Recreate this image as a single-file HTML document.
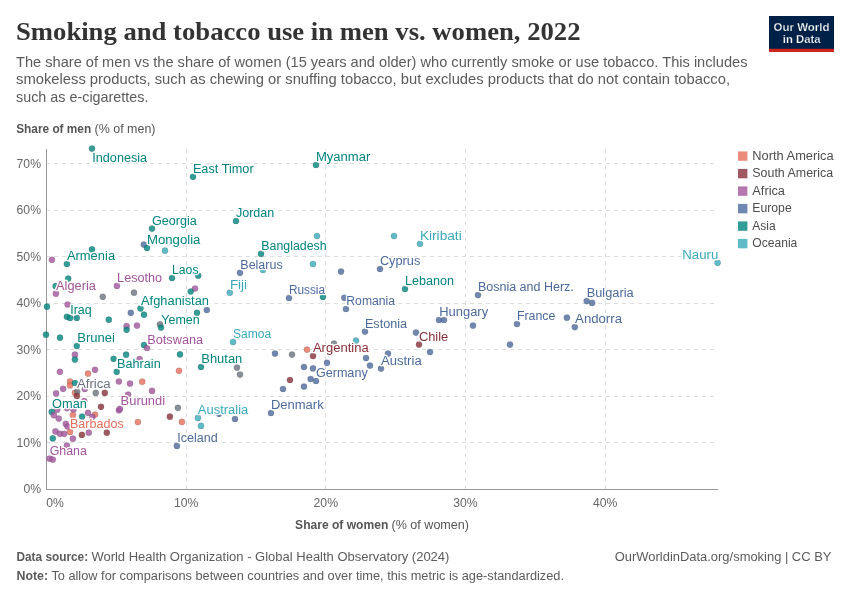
<!DOCTYPE html>
<html><head><meta charset="utf-8">
<style>
html,body{margin:0;padding:0;background:#fff;width:850px;height:600px;overflow:hidden}
svg{display:block;font-family:"Liberation Sans",sans-serif;will-change:transform}
</style></head>
<body>
<svg width="850" height="600" viewBox="0 0 850 600">
<rect width="850" height="600" fill="#fff"/>
<text x="16" y="40.2" font-family="Liberation Serif" font-size="26" font-weight="bold" fill="#333" textLength="564.5" lengthAdjust="spacingAndGlyphs">Smoking and tobacco use in men vs. women, 2022</text>
<g font-size="15" fill="#5b5b5b">
<text x="16" y="66.5" textLength="731.5" lengthAdjust="spacingAndGlyphs">The share of men vs the share of women (15 years and older) who currently smoke or use tobacco. This includes</text>
<text x="16" y="84.3" textLength="714" lengthAdjust="spacingAndGlyphs">smokeless products, such as chewing or snuffing tobacco, but excludes products that do not contain tobacco,</text>
<text x="16" y="102.3" textLength="132.5" lengthAdjust="spacingAndGlyphs">such as e-cigarettes.</text>
</g>
<g font-size="12.5" fill="#555">
<text x="16.2" y="133.3" font-weight="bold" textLength="75" lengthAdjust="spacingAndGlyphs">Share of men</text>
<text x="94.5" y="133.3" textLength="61" lengthAdjust="spacingAndGlyphs">(% of men)</text>
<text x="295.1" y="528.8" font-weight="bold" textLength="93.2" lengthAdjust="spacingAndGlyphs">Share of women</text>
<text x="391.5" y="528.8" textLength="77.5" lengthAdjust="spacingAndGlyphs">(% of women)</text>
</g>
<g font-size="12.5" fill="#5b5b5b">
<text x="16.5" y="560.7" font-weight="bold" textLength="71.6" lengthAdjust="spacingAndGlyphs">Data source:</text>
<text x="91.4" y="560.7" textLength="358" lengthAdjust="spacingAndGlyphs">World Health Organization - Global Health Observatory (2024)</text>
<text x="16.5" y="580" font-weight="bold" textLength="31.6" lengthAdjust="spacingAndGlyphs">Note:</text>
<text x="51.4" y="580" textLength="512.6" lengthAdjust="spacingAndGlyphs">To allow for comparisons between countries and over time, this metric is age-standardized.</text>
<text x="614.8" y="560.7" textLength="216.6" lengthAdjust="spacingAndGlyphs">OurWorldinData.org/smoking | CC BY</text>
</g>
<rect x="769" y="16" width="65" height="36" fill="#002147"/>
<rect x="769" y="48.8" width="65" height="3.2" fill="#CE261E"/>
<g font-size="11.5" font-weight="bold" fill="#fff" stroke="#002147" stroke-width="0.25">
<text x="773.5" y="30.5" textLength="56" lengthAdjust="spacingAndGlyphs">Our World</text>
<text x="782.8" y="42.5" textLength="37.8" lengthAdjust="spacingAndGlyphs">in Data</text>
</g>
<g stroke="#dddddd" stroke-width="1" stroke-dasharray="4,4"><line x1="46" y1="442.5" x2="715" y2="442.5"/><line x1="46" y1="396.5" x2="715" y2="396.5"/><line x1="46" y1="349.5" x2="715" y2="349.5"/><line x1="46" y1="303.5" x2="715" y2="303.5"/><line x1="46" y1="256.5" x2="715" y2="256.5"/><line x1="46" y1="210.5" x2="715" y2="210.5"/><line x1="46" y1="163.5" x2="715" y2="163.5"/><line x1="186.5" y1="149" x2="186.5" y2="489"/><line x1="325.5" y1="149" x2="325.5" y2="489"/><line x1="465.5" y1="149" x2="465.5" y2="489"/><line x1="605.5" y1="149" x2="605.5" y2="489"/></g>
<line x1="46.5" y1="149" x2="46.5" y2="490" stroke="#999" stroke-width="1"/>
<line x1="46" y1="489.5" x2="718" y2="489.5" stroke="#999" stroke-width="1"/>
<g font-size="12" fill="#666"><text x="23.4" y="493.3" textLength="17.6" lengthAdjust="spacingAndGlyphs">0%</text><text x="16.6" y="446.8" textLength="24.4" lengthAdjust="spacingAndGlyphs">10%</text><text x="16.6" y="400.3" textLength="24.4" lengthAdjust="spacingAndGlyphs">20%</text><text x="16.6" y="353.7" textLength="24.4" lengthAdjust="spacingAndGlyphs">30%</text><text x="16.6" y="307.2" textLength="24.4" lengthAdjust="spacingAndGlyphs">40%</text><text x="16.6" y="260.7" textLength="24.4" lengthAdjust="spacingAndGlyphs">50%</text><text x="16.6" y="214.2" textLength="24.4" lengthAdjust="spacingAndGlyphs">60%</text><text x="16.6" y="167.7" textLength="24.4" lengthAdjust="spacingAndGlyphs">70%</text></g>
<g font-size="12" fill="#666"><text x="46.3" y="506.9" textLength="17.6" lengthAdjust="spacingAndGlyphs">0%</text><text x="174.0" y="506.9" textLength="24.4" lengthAdjust="spacingAndGlyphs">10%</text><text x="313.6" y="506.9" textLength="24.4" lengthAdjust="spacingAndGlyphs">20%</text><text x="453.3" y="506.9" textLength="24.4" lengthAdjust="spacingAndGlyphs">30%</text><text x="593.0" y="506.9" textLength="24.4" lengthAdjust="spacingAndGlyphs">40%</text></g>
<g><circle cx="92" cy="148.6" r="3.1" fill="#00847E" fill-opacity="0.8" stroke="#333" stroke-opacity="0.3" stroke-width="0.5"/><circle cx="193" cy="176.8" r="3.1" fill="#00847E" fill-opacity="0.8" stroke="#333" stroke-opacity="0.3" stroke-width="0.5"/><circle cx="316" cy="165" r="3.1" fill="#00847E" fill-opacity="0.8" stroke="#333" stroke-opacity="0.3" stroke-width="0.5"/><circle cx="236" cy="221" r="3.1" fill="#00847E" fill-opacity="0.8" stroke="#333" stroke-opacity="0.3" stroke-width="0.5"/><circle cx="152" cy="228.6" r="3.1" fill="#00847E" fill-opacity="0.8" stroke="#333" stroke-opacity="0.3" stroke-width="0.5"/><circle cx="143.8" cy="244.6" r="3.1" fill="#4C6A9C" fill-opacity="0.8" stroke="#333" stroke-opacity="0.3" stroke-width="0.5"/><circle cx="147" cy="248" r="3.1" fill="#00847E" fill-opacity="0.8" stroke="#333" stroke-opacity="0.3" stroke-width="0.5"/><circle cx="165" cy="250.7" r="3.1" fill="#38AABA" fill-opacity="0.8" stroke="#333" stroke-opacity="0.3" stroke-width="0.5"/><circle cx="92" cy="249.4" r="3.1" fill="#00847E" fill-opacity="0.8" stroke="#333" stroke-opacity="0.3" stroke-width="0.5"/><circle cx="261" cy="253.8" r="3.1" fill="#00847E" fill-opacity="0.8" stroke="#333" stroke-opacity="0.3" stroke-width="0.5"/><circle cx="317" cy="236" r="3.1" fill="#38AABA" fill-opacity="0.8" stroke="#333" stroke-opacity="0.3" stroke-width="0.5"/><circle cx="394" cy="236" r="3.1" fill="#38AABA" fill-opacity="0.8" stroke="#333" stroke-opacity="0.3" stroke-width="0.5"/><circle cx="420" cy="243.8" r="3.1" fill="#38AABA" fill-opacity="0.8" stroke="#333" stroke-opacity="0.3" stroke-width="0.5"/><circle cx="51.9" cy="259.8" r="3.1" fill="#A2559C" fill-opacity="0.8" stroke="#333" stroke-opacity="0.3" stroke-width="0.5"/><circle cx="66.9" cy="264" r="3.1" fill="#00847E" fill-opacity="0.8" stroke="#333" stroke-opacity="0.3" stroke-width="0.5"/><circle cx="68.2" cy="278.6" r="3.1" fill="#00847E" fill-opacity="0.8" stroke="#333" stroke-opacity="0.3" stroke-width="0.5"/><circle cx="55.7" cy="286.2" r="3.1" fill="#00847E" fill-opacity="0.8" stroke="#333" stroke-opacity="0.3" stroke-width="0.5"/><circle cx="55.9" cy="293.7" r="3.1" fill="#A2559C" fill-opacity="0.8" stroke="#333" stroke-opacity="0.3" stroke-width="0.5"/><circle cx="116.9" cy="285.9" r="3.1" fill="#A2559C" fill-opacity="0.8" stroke="#333" stroke-opacity="0.3" stroke-width="0.5"/><circle cx="102.8" cy="296.8" r="3.1" fill="#6B7280" fill-opacity="0.8" stroke="#333" stroke-opacity="0.3" stroke-width="0.5"/><circle cx="134" cy="292.7" r="3.1" fill="#6B7280" fill-opacity="0.8" stroke="#333" stroke-opacity="0.3" stroke-width="0.5"/><circle cx="172" cy="278" r="3.1" fill="#00847E" fill-opacity="0.8" stroke="#333" stroke-opacity="0.3" stroke-width="0.5"/><circle cx="198.2" cy="275.7" r="3.1" fill="#00847E" fill-opacity="0.8" stroke="#333" stroke-opacity="0.3" stroke-width="0.5"/><circle cx="195" cy="288.5" r="3.1" fill="#A2559C" fill-opacity="0.8" stroke="#333" stroke-opacity="0.3" stroke-width="0.5"/><circle cx="190.7" cy="291.5" r="3.1" fill="#00847E" fill-opacity="0.8" stroke="#333" stroke-opacity="0.3" stroke-width="0.5"/><circle cx="47" cy="306.7" r="3.1" fill="#00847E" fill-opacity="0.8" stroke="#333" stroke-opacity="0.3" stroke-width="0.5"/><circle cx="67.6" cy="304.5" r="3.1" fill="#A2559C" fill-opacity="0.8" stroke="#333" stroke-opacity="0.3" stroke-width="0.5"/><circle cx="66.9" cy="316.8" r="3.1" fill="#00847E" fill-opacity="0.8" stroke="#333" stroke-opacity="0.3" stroke-width="0.5"/><circle cx="70.1" cy="317.9" r="3.1" fill="#00847E" fill-opacity="0.8" stroke="#333" stroke-opacity="0.3" stroke-width="0.5"/><circle cx="76.8" cy="317.9" r="3.1" fill="#00847E" fill-opacity="0.8" stroke="#333" stroke-opacity="0.3" stroke-width="0.5"/><circle cx="108.8" cy="319.7" r="3.1" fill="#00847E" fill-opacity="0.8" stroke="#333" stroke-opacity="0.3" stroke-width="0.5"/><circle cx="140.5" cy="308.4" r="3.1" fill="#00847E" fill-opacity="0.8" stroke="#333" stroke-opacity="0.3" stroke-width="0.5"/><circle cx="144" cy="314.7" r="3.1" fill="#00847E" fill-opacity="0.8" stroke="#333" stroke-opacity="0.3" stroke-width="0.5"/><circle cx="130.8" cy="312.8" r="3.1" fill="#4C6A9C" fill-opacity="0.8" stroke="#333" stroke-opacity="0.3" stroke-width="0.5"/><circle cx="197" cy="312.8" r="3.1" fill="#00847E" fill-opacity="0.8" stroke="#333" stroke-opacity="0.3" stroke-width="0.5"/><circle cx="206.8" cy="310" r="3.1" fill="#4C6A9C" fill-opacity="0.8" stroke="#333" stroke-opacity="0.3" stroke-width="0.5"/><circle cx="160" cy="324.4" r="3.1" fill="#6B7280" fill-opacity="0.8" stroke="#333" stroke-opacity="0.3" stroke-width="0.5"/><circle cx="161" cy="327.6" r="3.1" fill="#00847E" fill-opacity="0.8" stroke="#333" stroke-opacity="0.3" stroke-width="0.5"/><circle cx="126.6" cy="326.2" r="3.1" fill="#A2559C" fill-opacity="0.8" stroke="#333" stroke-opacity="0.3" stroke-width="0.5"/><circle cx="126.6" cy="329.8" r="3.1" fill="#00847E" fill-opacity="0.8" stroke="#333" stroke-opacity="0.3" stroke-width="0.5"/><circle cx="137" cy="325.6" r="3.1" fill="#A2559C" fill-opacity="0.8" stroke="#333" stroke-opacity="0.3" stroke-width="0.5"/><circle cx="46" cy="334.7" r="3.1" fill="#00847E" fill-opacity="0.8" stroke="#333" stroke-opacity="0.3" stroke-width="0.5"/><circle cx="60" cy="337.7" r="3.1" fill="#00847E" fill-opacity="0.8" stroke="#333" stroke-opacity="0.3" stroke-width="0.5"/><circle cx="76.8" cy="346" r="3.1" fill="#00847E" fill-opacity="0.8" stroke="#333" stroke-opacity="0.3" stroke-width="0.5"/><circle cx="144" cy="345" r="3.1" fill="#00847E" fill-opacity="0.8" stroke="#333" stroke-opacity="0.3" stroke-width="0.5"/><circle cx="147" cy="348" r="3.1" fill="#A2559C" fill-opacity="0.8" stroke="#333" stroke-opacity="0.3" stroke-width="0.5"/><circle cx="74.9" cy="354.7" r="3.1" fill="#A2559C" fill-opacity="0.8" stroke="#333" stroke-opacity="0.3" stroke-width="0.5"/><circle cx="74.9" cy="359.6" r="3.1" fill="#00847E" fill-opacity="0.8" stroke="#333" stroke-opacity="0.3" stroke-width="0.5"/><circle cx="126.1" cy="354.7" r="3.1" fill="#00847E" fill-opacity="0.8" stroke="#333" stroke-opacity="0.3" stroke-width="0.5"/><circle cx="113.6" cy="358.8" r="3.1" fill="#00847E" fill-opacity="0.8" stroke="#333" stroke-opacity="0.3" stroke-width="0.5"/><circle cx="139.6" cy="359" r="3.1" fill="#A2559C" fill-opacity="0.8" stroke="#333" stroke-opacity="0.3" stroke-width="0.5"/><circle cx="180" cy="354.4" r="3.1" fill="#00847E" fill-opacity="0.8" stroke="#333" stroke-opacity="0.3" stroke-width="0.5"/><circle cx="201" cy="367" r="3.1" fill="#00847E" fill-opacity="0.8" stroke="#333" stroke-opacity="0.3" stroke-width="0.5"/><circle cx="313" cy="264" r="3.1" fill="#38AABA" fill-opacity="0.8" stroke="#333" stroke-opacity="0.3" stroke-width="0.5"/><circle cx="240" cy="272.8" r="3.1" fill="#4C6A9C" fill-opacity="0.8" stroke="#333" stroke-opacity="0.3" stroke-width="0.5"/><circle cx="263" cy="270" r="3.1" fill="#38AABA" fill-opacity="0.8" stroke="#333" stroke-opacity="0.3" stroke-width="0.5"/><circle cx="341" cy="271.6" r="3.1" fill="#4C6A9C" fill-opacity="0.8" stroke="#333" stroke-opacity="0.3" stroke-width="0.5"/><circle cx="229.8" cy="292.7" r="3.1" fill="#38AABA" fill-opacity="0.8" stroke="#333" stroke-opacity="0.3" stroke-width="0.5"/><circle cx="289" cy="298" r="3.1" fill="#4C6A9C" fill-opacity="0.8" stroke="#333" stroke-opacity="0.3" stroke-width="0.5"/><circle cx="323" cy="297" r="3.1" fill="#00847E" fill-opacity="0.8" stroke="#333" stroke-opacity="0.3" stroke-width="0.5"/><circle cx="344.3" cy="297.8" r="3.1" fill="#4C6A9C" fill-opacity="0.8" stroke="#333" stroke-opacity="0.3" stroke-width="0.5"/><circle cx="346" cy="309" r="3.1" fill="#4C6A9C" fill-opacity="0.8" stroke="#333" stroke-opacity="0.3" stroke-width="0.5"/><circle cx="233" cy="342" r="3.1" fill="#38AABA" fill-opacity="0.8" stroke="#333" stroke-opacity="0.3" stroke-width="0.5"/><circle cx="365" cy="331.6" r="3.1" fill="#4C6A9C" fill-opacity="0.8" stroke="#333" stroke-opacity="0.3" stroke-width="0.5"/><circle cx="356" cy="340.6" r="3.1" fill="#38AABA" fill-opacity="0.8" stroke="#333" stroke-opacity="0.3" stroke-width="0.5"/><circle cx="334" cy="343.6" r="3.1" fill="#6B7280" fill-opacity="0.8" stroke="#333" stroke-opacity="0.3" stroke-width="0.5"/><circle cx="307" cy="349.6" r="3.1" fill="#E56E5A" fill-opacity="0.8" stroke="#333" stroke-opacity="0.3" stroke-width="0.5"/><circle cx="313" cy="356" r="3.1" fill="#883039" fill-opacity="0.8" stroke="#333" stroke-opacity="0.3" stroke-width="0.5"/><circle cx="275" cy="353.6" r="3.1" fill="#4C6A9C" fill-opacity="0.8" stroke="#333" stroke-opacity="0.3" stroke-width="0.5"/><circle cx="292" cy="354.6" r="3.1" fill="#6B7280" fill-opacity="0.8" stroke="#333" stroke-opacity="0.3" stroke-width="0.5"/><circle cx="366" cy="358" r="3.1" fill="#4C6A9C" fill-opacity="0.8" stroke="#333" stroke-opacity="0.3" stroke-width="0.5"/><circle cx="327" cy="362.8" r="3.1" fill="#4C6A9C" fill-opacity="0.8" stroke="#333" stroke-opacity="0.3" stroke-width="0.5"/><circle cx="304" cy="367" r="3.1" fill="#4C6A9C" fill-opacity="0.8" stroke="#333" stroke-opacity="0.3" stroke-width="0.5"/><circle cx="313" cy="368.4" r="3.1" fill="#4C6A9C" fill-opacity="0.8" stroke="#333" stroke-opacity="0.3" stroke-width="0.5"/><circle cx="237" cy="367.6" r="3.1" fill="#6B7280" fill-opacity="0.8" stroke="#333" stroke-opacity="0.3" stroke-width="0.5"/><circle cx="240" cy="374.6" r="3.1" fill="#6B7280" fill-opacity="0.8" stroke="#333" stroke-opacity="0.3" stroke-width="0.5"/><circle cx="380" cy="269" r="3.1" fill="#4C6A9C" fill-opacity="0.8" stroke="#333" stroke-opacity="0.3" stroke-width="0.5"/><circle cx="405" cy="289" r="3.1" fill="#00847E" fill-opacity="0.8" stroke="#333" stroke-opacity="0.3" stroke-width="0.5"/><circle cx="478" cy="295" r="3.1" fill="#4C6A9C" fill-opacity="0.8" stroke="#333" stroke-opacity="0.3" stroke-width="0.5"/><circle cx="439" cy="320" r="3.1" fill="#4C6A9C" fill-opacity="0.8" stroke="#333" stroke-opacity="0.3" stroke-width="0.5"/><circle cx="444" cy="320" r="3.1" fill="#4C6A9C" fill-opacity="0.8" stroke="#333" stroke-opacity="0.3" stroke-width="0.5"/><circle cx="473" cy="325.6" r="3.1" fill="#4C6A9C" fill-opacity="0.8" stroke="#333" stroke-opacity="0.3" stroke-width="0.5"/><circle cx="517" cy="324" r="3.1" fill="#4C6A9C" fill-opacity="0.8" stroke="#333" stroke-opacity="0.3" stroke-width="0.5"/><circle cx="416" cy="332.6" r="3.1" fill="#4C6A9C" fill-opacity="0.8" stroke="#333" stroke-opacity="0.3" stroke-width="0.5"/><circle cx="419" cy="344.6" r="3.1" fill="#883039" fill-opacity="0.8" stroke="#333" stroke-opacity="0.3" stroke-width="0.5"/><circle cx="510" cy="344.6" r="3.1" fill="#4C6A9C" fill-opacity="0.8" stroke="#333" stroke-opacity="0.3" stroke-width="0.5"/><circle cx="430" cy="352" r="3.1" fill="#4C6A9C" fill-opacity="0.8" stroke="#333" stroke-opacity="0.3" stroke-width="0.5"/><circle cx="388" cy="353.6" r="3.1" fill="#4C6A9C" fill-opacity="0.8" stroke="#333" stroke-opacity="0.3" stroke-width="0.5"/><circle cx="370" cy="365.6" r="3.1" fill="#4C6A9C" fill-opacity="0.8" stroke="#333" stroke-opacity="0.3" stroke-width="0.5"/><circle cx="381" cy="368.6" r="3.1" fill="#4C6A9C" fill-opacity="0.8" stroke="#333" stroke-opacity="0.3" stroke-width="0.5"/><circle cx="717.6" cy="262.8" r="3.1" fill="#38AABA" fill-opacity="0.8" stroke="#333" stroke-opacity="0.3" stroke-width="0.5"/><circle cx="586.7" cy="301.1" r="3.1" fill="#4C6A9C" fill-opacity="0.8" stroke="#333" stroke-opacity="0.3" stroke-width="0.5"/><circle cx="592.1" cy="302.9" r="3.1" fill="#4C6A9C" fill-opacity="0.8" stroke="#333" stroke-opacity="0.3" stroke-width="0.5"/><circle cx="566.9" cy="317.7" r="3.1" fill="#4C6A9C" fill-opacity="0.8" stroke="#333" stroke-opacity="0.3" stroke-width="0.5"/><circle cx="574.8" cy="327.1" r="3.1" fill="#4C6A9C" fill-opacity="0.8" stroke="#333" stroke-opacity="0.3" stroke-width="0.5"/><circle cx="59.9" cy="371.8" r="3.1" fill="#A2559C" fill-opacity="0.8" stroke="#333" stroke-opacity="0.3" stroke-width="0.5"/><circle cx="95" cy="369.8" r="3.1" fill="#A2559C" fill-opacity="0.8" stroke="#333" stroke-opacity="0.3" stroke-width="0.5"/><circle cx="88" cy="373.6" r="3.1" fill="#E56E5A" fill-opacity="0.8" stroke="#333" stroke-opacity="0.3" stroke-width="0.5"/><circle cx="116.7" cy="371.8" r="3.1" fill="#00847E" fill-opacity="0.8" stroke="#333" stroke-opacity="0.3" stroke-width="0.5"/><circle cx="179" cy="370.8" r="3.1" fill="#E56E5A" fill-opacity="0.8" stroke="#333" stroke-opacity="0.3" stroke-width="0.5"/><circle cx="70" cy="381.5" r="3.1" fill="#E56E5A" fill-opacity="0.8" stroke="#333" stroke-opacity="0.3" stroke-width="0.5"/><circle cx="70" cy="385.5" r="3.1" fill="#E56E5A" fill-opacity="0.8" stroke="#333" stroke-opacity="0.3" stroke-width="0.5"/><circle cx="75" cy="383" r="3.1" fill="#00847E" fill-opacity="0.8" stroke="#333" stroke-opacity="0.3" stroke-width="0.5"/><circle cx="84.8" cy="389" r="3.1" fill="#A2559C" fill-opacity="0.8" stroke="#333" stroke-opacity="0.3" stroke-width="0.5"/><circle cx="118.9" cy="381.5" r="3.1" fill="#A2559C" fill-opacity="0.8" stroke="#333" stroke-opacity="0.3" stroke-width="0.5"/><circle cx="130" cy="383.6" r="3.1" fill="#A2559C" fill-opacity="0.8" stroke="#333" stroke-opacity="0.3" stroke-width="0.5"/><circle cx="142.2" cy="381.7" r="3.1" fill="#E56E5A" fill-opacity="0.8" stroke="#333" stroke-opacity="0.3" stroke-width="0.5"/><circle cx="152" cy="390.9" r="3.1" fill="#A2559C" fill-opacity="0.8" stroke="#333" stroke-opacity="0.3" stroke-width="0.5"/><circle cx="63.1" cy="388.8" r="3.1" fill="#A2559C" fill-opacity="0.8" stroke="#333" stroke-opacity="0.3" stroke-width="0.5"/><circle cx="56.1" cy="393.4" r="3.1" fill="#A2559C" fill-opacity="0.8" stroke="#333" stroke-opacity="0.3" stroke-width="0.5"/><circle cx="75" cy="392.9" r="3.1" fill="#E56E5A" fill-opacity="0.8" stroke="#333" stroke-opacity="0.3" stroke-width="0.5"/><circle cx="77.2" cy="391.8" r="3.1" fill="#6B7280" fill-opacity="0.8" stroke="#333" stroke-opacity="0.3" stroke-width="0.5"/><circle cx="76.9" cy="396" r="3.1" fill="#883039" fill-opacity="0.8" stroke="#333" stroke-opacity="0.3" stroke-width="0.5"/><circle cx="95.8" cy="392.9" r="3.1" fill="#6B7280" fill-opacity="0.8" stroke="#333" stroke-opacity="0.3" stroke-width="0.5"/><circle cx="104.8" cy="392.9" r="3.1" fill="#883039" fill-opacity="0.8" stroke="#333" stroke-opacity="0.3" stroke-width="0.5"/><circle cx="128.1" cy="394.7" r="3.1" fill="#A2559C" fill-opacity="0.8" stroke="#333" stroke-opacity="0.3" stroke-width="0.5"/><circle cx="101" cy="406.8" r="3.1" fill="#883039" fill-opacity="0.8" stroke="#333" stroke-opacity="0.3" stroke-width="0.5"/><circle cx="84.2" cy="401" r="3.1" fill="#A2559C" fill-opacity="0.8" stroke="#333" stroke-opacity="0.3" stroke-width="0.5"/><circle cx="118.9" cy="410.3" r="3.1" fill="#A2559C" fill-opacity="0.8" stroke="#333" stroke-opacity="0.3" stroke-width="0.5"/><circle cx="120" cy="408.9" r="3.1" fill="#A2559C" fill-opacity="0.8" stroke="#333" stroke-opacity="0.3" stroke-width="0.5"/><circle cx="57.2" cy="409.7" r="3.1" fill="#A2559C" fill-opacity="0.8" stroke="#333" stroke-opacity="0.3" stroke-width="0.5"/><circle cx="66.9" cy="408.1" r="3.1" fill="#A2559C" fill-opacity="0.8" stroke="#333" stroke-opacity="0.3" stroke-width="0.5"/><circle cx="73.4" cy="409.7" r="3.1" fill="#A2559C" fill-opacity="0.8" stroke="#333" stroke-opacity="0.3" stroke-width="0.5"/><circle cx="51.7" cy="411.9" r="3.1" fill="#00847E" fill-opacity="0.8" stroke="#333" stroke-opacity="0.3" stroke-width="0.5"/><circle cx="53.9" cy="415.2" r="3.1" fill="#A2559C" fill-opacity="0.8" stroke="#333" stroke-opacity="0.3" stroke-width="0.5"/><circle cx="58.8" cy="418.6" r="3.1" fill="#A2559C" fill-opacity="0.8" stroke="#333" stroke-opacity="0.3" stroke-width="0.5"/><circle cx="72.9" cy="415.2" r="3.1" fill="#E56E5A" fill-opacity="0.8" stroke="#333" stroke-opacity="0.3" stroke-width="0.5"/><circle cx="82.1" cy="416.5" r="3.1" fill="#00847E" fill-opacity="0.8" stroke="#333" stroke-opacity="0.3" stroke-width="0.5"/><circle cx="88" cy="412.8" r="3.1" fill="#A2559C" fill-opacity="0.8" stroke="#333" stroke-opacity="0.3" stroke-width="0.5"/><circle cx="95.1" cy="414.6" r="3.1" fill="#E56E5A" fill-opacity="0.8" stroke="#333" stroke-opacity="0.3" stroke-width="0.5"/><circle cx="92.4" cy="416.8" r="3.1" fill="#A2559C" fill-opacity="0.8" stroke="#333" stroke-opacity="0.3" stroke-width="0.5"/><circle cx="65.8" cy="423.8" r="3.1" fill="#A2559C" fill-opacity="0.8" stroke="#333" stroke-opacity="0.3" stroke-width="0.5"/><circle cx="67.5" cy="426.5" r="3.1" fill="#A2559C" fill-opacity="0.8" stroke="#333" stroke-opacity="0.3" stroke-width="0.5"/><circle cx="55.5" cy="431.4" r="3.1" fill="#A2559C" fill-opacity="0.8" stroke="#333" stroke-opacity="0.3" stroke-width="0.5"/><circle cx="59.9" cy="433.8" r="3.1" fill="#A2559C" fill-opacity="0.8" stroke="#333" stroke-opacity="0.3" stroke-width="0.5"/><circle cx="64.2" cy="433.8" r="3.1" fill="#A2559C" fill-opacity="0.8" stroke="#333" stroke-opacity="0.3" stroke-width="0.5"/><circle cx="70" cy="432" r="3.1" fill="#E56E5A" fill-opacity="0.8" stroke="#333" stroke-opacity="0.3" stroke-width="0.5"/><circle cx="81.9" cy="434.9" r="3.1" fill="#883039" fill-opacity="0.8" stroke="#333" stroke-opacity="0.3" stroke-width="0.5"/><circle cx="88.8" cy="432.7" r="3.1" fill="#A2559C" fill-opacity="0.8" stroke="#333" stroke-opacity="0.3" stroke-width="0.5"/><circle cx="106.8" cy="432.7" r="3.1" fill="#883039" fill-opacity="0.8" stroke="#333" stroke-opacity="0.3" stroke-width="0.5"/><circle cx="52.8" cy="438.4" r="3.1" fill="#00847E" fill-opacity="0.8" stroke="#333" stroke-opacity="0.3" stroke-width="0.5"/><circle cx="72.9" cy="438.7" r="3.1" fill="#A2559C" fill-opacity="0.8" stroke="#333" stroke-opacity="0.3" stroke-width="0.5"/><circle cx="66.9" cy="445.5" r="3.1" fill="#A2559C" fill-opacity="0.8" stroke="#333" stroke-opacity="0.3" stroke-width="0.5"/><circle cx="49.6" cy="458.7" r="3.1" fill="#A2559C" fill-opacity="0.8" stroke="#333" stroke-opacity="0.3" stroke-width="0.5"/><circle cx="52.8" cy="459.6" r="3.1" fill="#A2559C" fill-opacity="0.8" stroke="#333" stroke-opacity="0.3" stroke-width="0.5"/><circle cx="177.9" cy="407.8" r="3.1" fill="#6B7280" fill-opacity="0.8" stroke="#333" stroke-opacity="0.3" stroke-width="0.5"/><circle cx="169.9" cy="416.7" r="3.1" fill="#883039" fill-opacity="0.8" stroke="#333" stroke-opacity="0.3" stroke-width="0.5"/><circle cx="181.9" cy="421.9" r="3.1" fill="#E56E5A" fill-opacity="0.8" stroke="#333" stroke-opacity="0.3" stroke-width="0.5"/><circle cx="137.9" cy="422" r="3.1" fill="#E56E5A" fill-opacity="0.8" stroke="#333" stroke-opacity="0.3" stroke-width="0.5"/><circle cx="197.9" cy="417.9" r="3.1" fill="#38AABA" fill-opacity="0.8" stroke="#333" stroke-opacity="0.3" stroke-width="0.5"/><circle cx="201" cy="425.9" r="3.1" fill="#38AABA" fill-opacity="0.8" stroke="#333" stroke-opacity="0.3" stroke-width="0.5"/><circle cx="176.9" cy="445.9" r="3.1" fill="#4C6A9C" fill-opacity="0.8" stroke="#333" stroke-opacity="0.3" stroke-width="0.5"/><circle cx="290" cy="380" r="3.1" fill="#883039" fill-opacity="0.8" stroke="#333" stroke-opacity="0.3" stroke-width="0.5"/><circle cx="310.6" cy="379" r="3.1" fill="#4C6A9C" fill-opacity="0.8" stroke="#333" stroke-opacity="0.3" stroke-width="0.5"/><circle cx="316" cy="381" r="3.1" fill="#4C6A9C" fill-opacity="0.8" stroke="#333" stroke-opacity="0.3" stroke-width="0.5"/><circle cx="283" cy="389" r="3.1" fill="#4C6A9C" fill-opacity="0.8" stroke="#333" stroke-opacity="0.3" stroke-width="0.5"/><circle cx="304" cy="386.6" r="3.1" fill="#4C6A9C" fill-opacity="0.8" stroke="#333" stroke-opacity="0.3" stroke-width="0.5"/><circle cx="271" cy="413" r="3.1" fill="#4C6A9C" fill-opacity="0.8" stroke="#333" stroke-opacity="0.3" stroke-width="0.5"/><circle cx="235" cy="419" r="3.1" fill="#4C6A9C" fill-opacity="0.8" stroke="#333" stroke-opacity="0.3" stroke-width="0.5"/><circle cx="219" cy="413.8" r="3.1" fill="#4C6A9C" fill-opacity="0.8" stroke="#333" stroke-opacity="0.3" stroke-width="0.5"/></g>
<g font-size="12" fill="#fff" stroke="#fff" stroke-width="2.6" stroke-linejoin="round" stroke-opacity="1"><text x="92.3" y="161.8" textLength="54.8" lengthAdjust="spacingAndGlyphs">Indonesia</text><text x="192.9" y="172.6" textLength="60.8" lengthAdjust="spacingAndGlyphs">East Timor</text><text x="315.9" y="160.8" textLength="54.4" lengthAdjust="spacingAndGlyphs">Myanmar</text><text x="235.9" y="216.6" textLength="38.4" lengthAdjust="spacingAndGlyphs">Jordan</text><text x="151.9" y="224.8" textLength="44.8" lengthAdjust="spacingAndGlyphs">Georgia</text><text x="147.0" y="244.0" textLength="53.4" lengthAdjust="spacingAndGlyphs">Mongolia</text><text x="261.3" y="250.2" textLength="65.4" lengthAdjust="spacingAndGlyphs">Bangladesh</text><text x="419.9" y="239.8" textLength="41.8" lengthAdjust="spacingAndGlyphs">Kiribati</text><text x="682.3" y="258.6" textLength="36.0" lengthAdjust="spacingAndGlyphs">Nauru</text><text x="66.9" y="260.1" textLength="48.2" lengthAdjust="spacingAndGlyphs">Armenia</text><text x="240.3" y="269.2" textLength="42.4" lengthAdjust="spacingAndGlyphs">Belarus</text><text x="379.9" y="264.6" textLength="40.4" lengthAdjust="spacingAndGlyphs">Cyprus</text><text x="172.0" y="274.0" textLength="26.5" lengthAdjust="spacingAndGlyphs">Laos</text><text x="117.1" y="282.2" textLength="45.0" lengthAdjust="spacingAndGlyphs">Lesotho</text><text x="404.9" y="284.6" textLength="49.2" lengthAdjust="spacingAndGlyphs">Lebanon</text><text x="229.9" y="288.8" textLength="17.2" lengthAdjust="spacingAndGlyphs">Fiji</text><text x="56.1" y="290.3" textLength="39.8" lengthAdjust="spacingAndGlyphs">Algeria</text><text x="477.9" y="290.6" textLength="95.9" lengthAdjust="spacingAndGlyphs">Bosnia and Herz.</text><text x="288.9" y="294.2" textLength="36.2" lengthAdjust="spacingAndGlyphs">Russia</text><text x="586.7" y="297.1" textLength="46.9" lengthAdjust="spacingAndGlyphs">Bulgaria</text><text x="141.0" y="304.9" textLength="68.0" lengthAdjust="spacingAndGlyphs">Afghanistan</text><text x="346.3" y="305.2" textLength="48.8" lengthAdjust="spacingAndGlyphs">Romania</text><text x="70.2" y="314.1" textLength="21.4" lengthAdjust="spacingAndGlyphs">Iraq</text><text x="439.3" y="315.6" textLength="48.8" lengthAdjust="spacingAndGlyphs">Hungary</text><text x="516.9" y="319.9" textLength="38.4" lengthAdjust="spacingAndGlyphs">France</text><text x="575.1" y="322.6" textLength="46.9" lengthAdjust="spacingAndGlyphs">Andorra</text><text x="161.3" y="323.6" textLength="38.4" lengthAdjust="spacingAndGlyphs">Yemen</text><text x="364.9" y="327.6" textLength="42.2" lengthAdjust="spacingAndGlyphs">Estonia</text><text x="232.9" y="338.4" textLength="38.2" lengthAdjust="spacingAndGlyphs">Samoa</text><text x="418.9" y="341.2" textLength="29.4" lengthAdjust="spacingAndGlyphs">Chile</text><text x="77.2" y="342.0" textLength="37.7" lengthAdjust="spacingAndGlyphs">Brunei</text><text x="147.3" y="343.6" textLength="55.8" lengthAdjust="spacingAndGlyphs">Botswana</text><text x="312.9" y="351.6" textLength="55.8" lengthAdjust="spacingAndGlyphs">Argentina</text><text x="201.3" y="363.4" textLength="41.0" lengthAdjust="spacingAndGlyphs">Bhutan</text><text x="380.9" y="365.0" textLength="40.8" lengthAdjust="spacingAndGlyphs">Austria</text><text x="117.1" y="367.6" textLength="43.6" lengthAdjust="spacingAndGlyphs">Bahrain</text><text x="315.9" y="377.2" textLength="51.8" lengthAdjust="spacingAndGlyphs">Germany</text><text x="77.0" y="388.2" textLength="33.7" lengthAdjust="spacingAndGlyphs">Africa</text><text x="120.6" y="405.3" textLength="44.5" lengthAdjust="spacingAndGlyphs">Burundi</text><text x="52.1" y="408.1" textLength="34.8" lengthAdjust="spacingAndGlyphs">Oman</text><text x="270.9" y="409.2" textLength="52.8" lengthAdjust="spacingAndGlyphs">Denmark</text><text x="197.8" y="413.9" textLength="50.5" lengthAdjust="spacingAndGlyphs">Australia</text><text x="70.0" y="428.0" textLength="53.7" lengthAdjust="spacingAndGlyphs">Barbados</text><text x="177.3" y="442.4" textLength="40.4" lengthAdjust="spacingAndGlyphs">Iceland</text><text x="49.7" y="455.1" textLength="37.2" lengthAdjust="spacingAndGlyphs">Ghana</text></g>
<g font-size="12"><text x="92.3" y="161.8" textLength="54.8" lengthAdjust="spacingAndGlyphs" fill="#00847E">Indonesia</text><text x="192.9" y="172.6" textLength="60.8" lengthAdjust="spacingAndGlyphs" fill="#00847E">East Timor</text><text x="315.9" y="160.8" textLength="54.4" lengthAdjust="spacingAndGlyphs" fill="#00847E">Myanmar</text><text x="235.9" y="216.6" textLength="38.4" lengthAdjust="spacingAndGlyphs" fill="#00847E">Jordan</text><text x="151.9" y="224.8" textLength="44.8" lengthAdjust="spacingAndGlyphs" fill="#00847E">Georgia</text><text x="147.0" y="244.0" textLength="53.4" lengthAdjust="spacingAndGlyphs" fill="#00847E">Mongolia</text><text x="261.3" y="250.2" textLength="65.4" lengthAdjust="spacingAndGlyphs" fill="#00847E">Bangladesh</text><text x="419.9" y="239.8" textLength="41.8" lengthAdjust="spacingAndGlyphs" fill="#38AABA">Kiribati</text><text x="682.3" y="258.6" textLength="36.0" lengthAdjust="spacingAndGlyphs" fill="#38AABA">Nauru</text><text x="66.9" y="260.1" textLength="48.2" lengthAdjust="spacingAndGlyphs" fill="#00847E">Armenia</text><text x="240.3" y="269.2" textLength="42.4" lengthAdjust="spacingAndGlyphs" fill="#4C6A9C">Belarus</text><text x="379.9" y="264.6" textLength="40.4" lengthAdjust="spacingAndGlyphs" fill="#4C6A9C">Cyprus</text><text x="172.0" y="274.0" textLength="26.5" lengthAdjust="spacingAndGlyphs" fill="#00847E">Laos</text><text x="117.1" y="282.2" textLength="45.0" lengthAdjust="spacingAndGlyphs" fill="#A2559C">Lesotho</text><text x="404.9" y="284.6" textLength="49.2" lengthAdjust="spacingAndGlyphs" fill="#00847E">Lebanon</text><text x="229.9" y="288.8" textLength="17.2" lengthAdjust="spacingAndGlyphs" fill="#38AABA">Fiji</text><text x="56.1" y="290.3" textLength="39.8" lengthAdjust="spacingAndGlyphs" fill="#A2559C">Algeria</text><text x="477.9" y="290.6" textLength="95.9" lengthAdjust="spacingAndGlyphs" fill="#4C6A9C">Bosnia and Herz.</text><text x="288.9" y="294.2" textLength="36.2" lengthAdjust="spacingAndGlyphs" fill="#4C6A9C">Russia</text><text x="586.7" y="297.1" textLength="46.9" lengthAdjust="spacingAndGlyphs" fill="#4C6A9C">Bulgaria</text><text x="141.0" y="304.9" textLength="68.0" lengthAdjust="spacingAndGlyphs" fill="#00847E">Afghanistan</text><text x="346.3" y="305.2" textLength="48.8" lengthAdjust="spacingAndGlyphs" fill="#4C6A9C">Romania</text><text x="70.2" y="314.1" textLength="21.4" lengthAdjust="spacingAndGlyphs" fill="#00847E">Iraq</text><text x="439.3" y="315.6" textLength="48.8" lengthAdjust="spacingAndGlyphs" fill="#4C6A9C">Hungary</text><text x="516.9" y="319.9" textLength="38.4" lengthAdjust="spacingAndGlyphs" fill="#4C6A9C">France</text><text x="575.1" y="322.6" textLength="46.9" lengthAdjust="spacingAndGlyphs" fill="#4C6A9C">Andorra</text><text x="161.3" y="323.6" textLength="38.4" lengthAdjust="spacingAndGlyphs" fill="#00847E">Yemen</text><text x="364.9" y="327.6" textLength="42.2" lengthAdjust="spacingAndGlyphs" fill="#4C6A9C">Estonia</text><text x="232.9" y="338.4" textLength="38.2" lengthAdjust="spacingAndGlyphs" fill="#38AABA">Samoa</text><text x="418.9" y="341.2" textLength="29.4" lengthAdjust="spacingAndGlyphs" fill="#883039">Chile</text><text x="77.2" y="342.0" textLength="37.7" lengthAdjust="spacingAndGlyphs" fill="#00847E">Brunei</text><text x="147.3" y="343.6" textLength="55.8" lengthAdjust="spacingAndGlyphs" fill="#A2559C">Botswana</text><text x="312.9" y="351.6" textLength="55.8" lengthAdjust="spacingAndGlyphs" fill="#883039">Argentina</text><text x="201.3" y="363.4" textLength="41.0" lengthAdjust="spacingAndGlyphs" fill="#00847E">Bhutan</text><text x="380.9" y="365.0" textLength="40.8" lengthAdjust="spacingAndGlyphs" fill="#4C6A9C">Austria</text><text x="117.1" y="367.6" textLength="43.6" lengthAdjust="spacingAndGlyphs" fill="#00847E">Bahrain</text><text x="315.9" y="377.2" textLength="51.8" lengthAdjust="spacingAndGlyphs" fill="#4C6A9C">Germany</text><text x="77.0" y="388.2" textLength="33.7" lengthAdjust="spacingAndGlyphs" fill="#6B7280">Africa</text><text x="120.6" y="405.3" textLength="44.5" lengthAdjust="spacingAndGlyphs" fill="#A2559C">Burundi</text><text x="52.1" y="408.1" textLength="34.8" lengthAdjust="spacingAndGlyphs" fill="#00847E">Oman</text><text x="270.9" y="409.2" textLength="52.8" lengthAdjust="spacingAndGlyphs" fill="#4C6A9C">Denmark</text><text x="197.8" y="413.9" textLength="50.5" lengthAdjust="spacingAndGlyphs" fill="#38AABA">Australia</text><text x="70.0" y="428.0" textLength="53.7" lengthAdjust="spacingAndGlyphs" fill="#E56E5A">Barbados</text><text x="177.3" y="442.4" textLength="40.4" lengthAdjust="spacingAndGlyphs" fill="#4C6A9C">Iceland</text><text x="49.7" y="455.1" textLength="37.2" lengthAdjust="spacingAndGlyphs" fill="#A2559C">Ghana</text></g>
<g><rect x="738" y="151.4" width="9.4" height="9.4" fill="#E56E5A" fill-opacity="0.8"/><text x="752.3" y="159.8" font-size="12" fill="#4d4d4d" textLength="81.4" lengthAdjust="spacingAndGlyphs">North America</text><rect x="738" y="168.9" width="9.4" height="9.4" fill="#883039" fill-opacity="0.8"/><text x="752.3" y="177.3" font-size="12" fill="#4d4d4d" textLength="80.8" lengthAdjust="spacingAndGlyphs">South America</text><rect x="738" y="186.4" width="9.4" height="9.4" fill="#A2559C" fill-opacity="0.8"/><text x="752.3" y="194.8" font-size="12" fill="#4d4d4d" textLength="32.7" lengthAdjust="spacingAndGlyphs">Africa</text><rect x="738" y="203.9" width="9.4" height="9.4" fill="#4C6A9C" fill-opacity="0.8"/><text x="752.3" y="212.3" font-size="12" fill="#4d4d4d" textLength="39.4" lengthAdjust="spacingAndGlyphs">Europe</text><rect x="738" y="221.4" width="9.4" height="9.4" fill="#00847E" fill-opacity="0.8"/><text x="752.3" y="229.8" font-size="12" fill="#4d4d4d" textLength="23.3" lengthAdjust="spacingAndGlyphs">Asia</text><rect x="738" y="238.9" width="9.4" height="9.4" fill="#38AABA" fill-opacity="0.8"/><text x="752.3" y="247.3" font-size="12" fill="#4d4d4d" textLength="45.0" lengthAdjust="spacingAndGlyphs">Oceania</text></g>
</svg>
</body></html>
